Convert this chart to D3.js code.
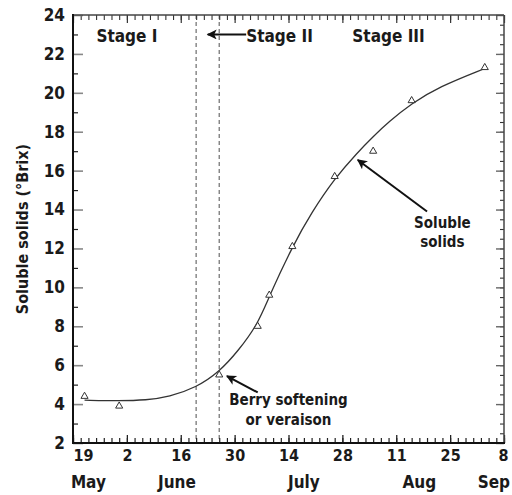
<!DOCTYPE html>
<html><head><meta charset="utf-8">
<script src="https://cdn.jsdelivr.net/npm/d3@7"></script>
<style>
body{margin:0;background:#fff}
text{font-family:"Liberation Sans Narrow","Arial Narrow","DejaVu Sans Condensed",sans-serif;font-weight:bold;fill:#1a1a1a}
</style>
</head><body><svg id="c" width="512" height="495"></svg>
<script>
// ---- data ----
const obsDates = ["2000-05-22","2000-05-31","2000-06-26","2000-07-06","2000-07-09","2000-07-15","2000-07-26","2000-08-05","2000-08-15","2000-09-03"];
const obsBrix  = [4.4, 3.9, 5.5, 8.0, 9.6, 12.1, 15.7, 17.0, 19.6, 21.3];
const fitDates = ["2000-05-22","2000-05-31","2000-06-07","2000-06-13","2000-06-20","2000-06-26","2000-07-01","2000-07-06","2000-07-09","2000-07-15","2000-07-20","2000-07-26","2000-08-01","2000-08-05","2000-08-09","2000-08-15","2000-08-22","2000-09-03"];
const fitBrix  = [4.2, 4.17, 4.2, 4.37, 4.85, 5.65, 6.75, 8.1, 9.55, 12.1, 13.85, 15.6, 16.95, 17.75, 18.5, 19.45, 20.3, 21.25];
const yMajor = [2,4,6,8,10,12,14,16,18,20,22,24];
const yMinor = [3,5,7,9,11,13,15,17,19,21,23];
const xTickDates  = ["2000-05-19","2000-06-02","2000-06-16","2000-06-30","2000-07-14","2000-07-28","2000-08-11","2000-08-25","2000-09-08"];
const xTickLabels = ["19","2","16","30","14","28","11","25","8"];
const monthNames = ["May","June","July","Aug","Sep"];
const monthDates = ["2000-05-23","2000-06-15","2000-07-18","2000-08-17","2000-09-10"];
const stageNames = ["Stage I","Stage II","Stage III"];
const stageDates = ["2000-06-02","2000-07-03","2000-08-09"];
const stageMarkerDates = ["2000-06-20","2000-06-26"];

// ---- scales ----
const P = d3.utcParse("%Y-%m-%d");
const x = d3.scaleUtc().domain([P("2000-05-19"), P("2000-09-08")]).range([73, 504]);
const y = d3.scaleLinear().domain([2, 24]).range([443, 15]);
const svg = d3.select("#c");

// dashed stage boundaries
svg.selectAll("line.stage").data(stageMarkerDates).join("line")
  .attr("x1", d => x(P(d))).attr("x2", d => x(P(d)))
  .attr("y1", y(24)).attr("y2", y(2))
  .attr("stroke", "#777").attr("stroke-width", 1.3).attr("stroke-dasharray", "4,3");

// axes
const majorDays = xTickDates.map(P);
const minorDays = d3.range(0, 113, 2).map(n => d3.utcDay.offset(P("2000-05-19"), n));
const halfSteps = d3.range(2, 24.01, 0.5);

function style(g, col, w) {
  g.select(".domain").remove();
  g.selectAll(".tick line").attr("stroke", col).attr("stroke-width", w);
}
// bottom
svg.append("g").attr("transform", "translate(0,443)")
  .call(d3.axisBottom(x).tickValues(minorDays).tickSize(-5).tickFormat(""))
  .call(g => style(g, "#222", 1.2));
const bx = svg.append("g").attr("transform", "translate(0,443)")
  .call(d3.axisBottom(x).tickValues(majorDays).tickSize(-8).tickPadding(7)
        .tickFormat((d, i) => xTickLabels[i]))
  .call(g => style(g, "#222", 1.3));
bx.selectAll("text").attr("font-size", 16).attr("fill", "#1a1a1a")
  .attr("font-family", null)
  .attr("text-anchor", (d, i) => i === 0 ? "start" : (i === xTickLabels.length - 1 ? "end" : "middle"))
  .attr("dx", (d, i) => i === xTickLabels.length - 1 ? 4 : 0);
// top
svg.append("g").attr("transform", "translate(0,15)")
  .call(d3.axisTop(x).tickValues(minorDays).tickSize(-5).tickFormat(""))
  .call(g => style(g, "#333", 1.1));
svg.append("g").attr("transform", "translate(0,15)")
  .call(d3.axisTop(x).tickValues(majorDays).tickSize(-8).tickFormat(""))
  .call(g => style(g, "#333", 1.2));
// left
svg.append("g").attr("transform", "translate(73,0)")
  .call(d3.axisLeft(y).tickValues(yMinor).tickSize(-5).tickFormat(""))
  .call(g => style(g, "#222", 1.2));
const ly = svg.append("g").attr("transform", "translate(73,0)")
  .call(d3.axisLeft(y).tickValues(yMajor).tickSize(-10).tickPadding(8).tickFormat(d3.format("d")))
  .call(g => style(g, "#888", 1.6));
ly.selectAll("text").attr("font-size", 17).attr("fill", "#1a1a1a").attr("font-family", null);
// right
svg.append("g").attr("transform", "translate(504,0)")
  .call(d3.axisRight(y).tickValues(halfSteps).tickSize(-4).tickFormat(""))
  .call(g => style(g, "#333", 1.1));
svg.append("g").attr("transform", "translate(504,0)")
  .call(d3.axisRight(y).tickValues(yMajor).tickSize(-8).tickFormat(""))
  .call(g => style(g, "#666", 1.4));

// frame
svg.append("line").attr("x1", 73).attr("x2", 504).attr("y1", 15).attr("y2", 15).attr("stroke", "#444").attr("stroke-width", 1.5);
svg.append("line").attr("x1", 504).attr("x2", 504).attr("y1", 15).attr("y2", 443).attr("stroke", "#444").attr("stroke-width", 1.5);
svg.append("line").attr("x1", 73).attr("x2", 73).attr("y1", 14).attr("y2", 444).attr("stroke", "#111").attr("stroke-width", 2);
svg.append("line").attr("x1", 72).attr("x2", 505).attr("y1", 443).attr("y2", 443).attr("stroke", "#111").attr("stroke-width", 2);

// month labels
svg.selectAll("text.month").data(monthNames).join("text")
  .attr("x", (d, i) => Math.min(x(P(monthDates[i])), 510)).attr("y", 488)
  .attr("text-anchor", (d, i) => i === monthNames.length - 1 ? "end" : "middle")
  .attr("font-size", 17).text(d => d);

// y title
svg.append("text").attr("transform", `translate(28,${(15+443)/2}) rotate(-90)`)
  .attr("text-anchor", "middle").attr("font-size", 16).text("Soluble solids (°Brix)");

// fitted curve
const fit = fitDates.map((d, i) => [x(P(d)), y(fitBrix[i])]);
svg.append("path").attr("d", d3.line().curve(d3.curveBasis)(fit))
  .attr("fill", "none").attr("stroke", "#333").attr("stroke-width", 1.3);

// observations
svg.selectAll("path.obs").data(obsDates).join("path")
  .attr("transform", (d, i) => `translate(${x(P(d))},${y(obsBrix[i])})`)
  .attr("d", d3.symbol(d3.symbolTriangle, 22))
  .attr("fill", "#fff").attr("stroke", "#333").attr("stroke-width", 1);

// arrow marker
svg.append("defs").append("marker").attr("id", "ah")
  .attr("viewBox", "0 0 10 10").attr("refX", 9).attr("refY", 5)
  .attr("markerWidth", 12).attr("markerHeight", 10).attr("markerUnits", "userSpaceOnUse")
  .attr("orient", "auto")
  .append("path").attr("d", "M0,0L10,5L0,10L2.5,5Z").attr("fill", "#111");
function arrow(d1, v1, d2, v2) {
  svg.append("line")
    .attr("x1", x(P(d1))).attr("y1", y(v1)).attr("x2", x(P(d2))).attr("y2", y(v2))
    .attr("stroke", "#111").attr("stroke-width", 2).attr("marker-end", "url(#ah)");
}

// stage labels
svg.selectAll("text.stage").data(stageNames).join("text")
  .attr("x", (d, i) => x(P(stageDates[i]))).attr("y", y(22.62))
  .attr("text-anchor", (d, i) => i === 1 ? "start" : "middle")
  .attr("font-size", 17).text(d => d);
arrow("2000-07-03", 23, "2000-06-23", 23);

// soluble solids label
const ss = svg.append("text").attr("text-anchor", "middle").attr("font-size", 15);
ss.append("tspan").attr("x", x(P("2000-08-23"))).attr("y", y(13.05)).text("Soluble");
ss.append("tspan").attr("x", x(P("2000-08-23"))).attr("y", y(12.08)).text("solids");
arrow("2000-08-19", 13.9, "2000-08-01", 16.55);

// veraison label
const bv = svg.append("text").attr("text-anchor", "middle").attr("font-size", 15);
bv.append("tspan").attr("x", x(P("2000-07-14"))).attr("y", y(3.95)).text("Berry softening");
bv.append("tspan").attr("x", x(P("2000-07-14"))).attr("y", y(2.93)).text("or veraison");
arrow("2000-07-06", 4.6, "2000-06-28", 5.44);
</script>
</body></html>
